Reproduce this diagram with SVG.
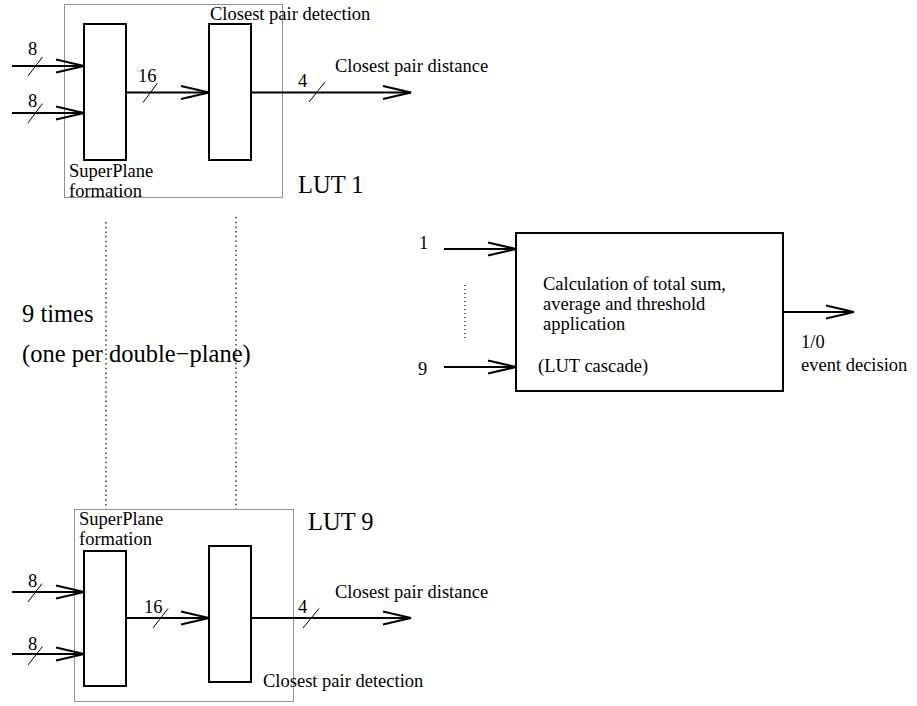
<svg xmlns="http://www.w3.org/2000/svg" width="917" height="706" viewBox="0 0 917 706">
<style>
text{font-family:"Liberation Serif","Times New Roman",serif;fill:#000}
.s{font-size:18.5px}
.b{font-size:24.5px}
.blk{fill:none;stroke:#000;stroke-width:2}
.dot{fill:none;stroke:#222;stroke-width:1;stroke-dasharray:1,1}
.vd{fill:none;stroke:#000;stroke-width:1.2;stroke-dasharray:1.5,3.2}
.w{fill:none;stroke:#000;stroke-width:2;marker-end:url(#ah)}
.sl{fill:none;stroke:#000;stroke-width:1}
</style>
<defs>
<marker id="ah" markerUnits="userSpaceOnUse" markerWidth="32" markerHeight="18" refX="28" refY="7" orient="auto" viewBox="-2 -2 32 18">
<path d="M0,0.5 L28,7 L0,13.5" fill="none" stroke="#000" stroke-width="2"/>
</marker>
</defs>
<g id="lut1">
<rect class="dot" x="64.5" y="4.5" width="218" height="193"/>
<rect id="sp1" class="blk" x="84" y="24" width="42" height="136"/>
<rect id="cp1" class="blk" x="209" y="24" width="42" height="136"/>
<text class="s" x="210" y="20">Closest pair detection</text>
<text class="s" x="69" y="177">SuperPlane</text>
<text class="s" x="69" y="197">formation</text>
<text class="b" x="298" y="193">LUT 1</text>
</g>
<g id="lut9">
<rect class="dot" x="74.5" y="509.5" width="219" height="192"/>
<rect id="sp9" class="blk" x="84" y="551" width="42" height="135"/>
<rect id="cp9" class="blk" x="209" y="546" width="42" height="136"/>
<text class="s" x="79" y="525">SuperPlane</text>
<text class="s" x="79" y="545">formation</text>
<text class="b" x="308" y="530">LUT 9</text>
<text class="s" x="263" y="687">Closest pair detection</text>
</g>
<g id="sum">
<rect class="blk" x="516" y="233" width="267" height="158"/>
<text class="s" x="543" y="290">Calculation of total sum,</text>
<text class="s" x="543" y="310">average and threshold</text>
<text class="s" x="543" y="330">application</text>
<text class="s" x="538" y="372">(LUT cascade)</text>
</g>
<g id="labels">
<text class="b" x="22" y="322">9 times</text>
<text class="b" x="22" y="362">(one per double−plane)</text>
<text class="s" x="419" y="249">1</text>
<text class="s" x="418" y="375">9</text>
<text class="s" x="801" y="348">1/0</text>
<text class="s" x="801" y="371">event decision</text>
</g>
<g id="connectors">
<line class="w" x1="12" y1="66" x2="84" y2="66"/>
<line class="sl" x1="28" y1="76" x2="42.5" y2="57"/>
<text class="s" x="28" y="55">8</text>
<line class="w" x1="12" y1="113" x2="84" y2="113"/>
<line class="sl" x1="28" y1="123" x2="42.5" y2="103.5"/>
<text class="s" x="28" y="107">8</text>
<line class="w" x1="126" y1="92.5" x2="209" y2="92.5"/>
<line class="sl" x1="143" y1="102.5" x2="157.5" y2="83"/>
<text class="s" x="138" y="82">16</text>
<line class="w" x1="251" y1="92.5" x2="411" y2="92.5"/>
<line class="sl" x1="309" y1="102" x2="325" y2="82"/>
<text class="s" x="298" y="87">4</text>
<text class="s" x="335" y="72">Closest pair distance</text>

<line class="w" x1="12" y1="592" x2="84" y2="592"/>
<line class="sl" x1="28" y1="602" x2="42" y2="583.5"/>
<text class="s" x="28" y="587">8</text>
<line class="w" x1="12" y1="654" x2="84" y2="654"/>
<line class="sl" x1="28" y1="665" x2="42.5" y2="646.5"/>
<text class="s" x="28" y="650">8</text>
<line class="w" x1="126" y1="618" x2="209" y2="618"/>
<line class="sl" x1="153" y1="628" x2="168" y2="608.5"/>
<text class="s" x="144" y="613">16</text>
<line class="w" x1="251" y1="618" x2="411" y2="618"/>
<line class="sl" x1="303" y1="628" x2="319" y2="608.5"/>
<text class="s" x="298" y="613">4</text>
<text class="s" x="335" y="598">Closest pair distance</text>

<line class="vd" x1="106" y1="222" x2="106" y2="509"/>
<line class="vd" x1="236" y1="217" x2="236" y2="509"/>

<line class="w" x1="444" y1="249" x2="516" y2="249"/>
<line class="w" x1="444" y1="367" x2="516" y2="367"/>
<line class="vd" x1="465" y1="285" x2="465" y2="340" style="stroke-dasharray:1,3"/>
<line class="w" x1="783" y1="312" x2="854" y2="312"/>
</g>
</svg>
